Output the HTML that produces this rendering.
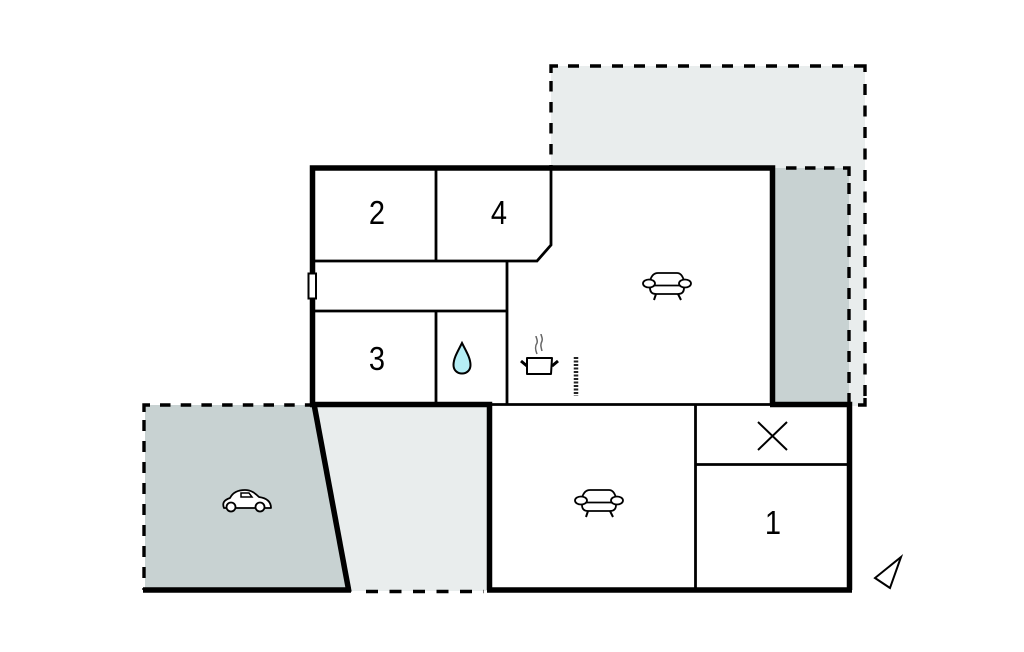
<!DOCTYPE html>
<html>
<head>
<meta charset="utf-8">
<style>
html,body{margin:0;padding:0;background:#fff;width:1024px;height:652px;overflow:hidden}
svg{display:block}
text{font-family:"Liberation Sans",sans-serif;font-size:33px;fill:#000;text-anchor:middle}
</style>
</head>
<body>
<svg width="1024" height="652" viewBox="0 0 1024 652" xmlns="http://www.w3.org/2000/svg">
<rect width="1024" height="652" fill="#fff"/>
<!-- fills -->
<rect x="551" y="66" width="314" height="102" fill="#e9eded"/>
<rect x="773" y="168" width="92" height="238" fill="#e9eded"/>
<rect x="773" y="168" width="76" height="236" fill="#c8d2d2"/>
<polygon points="145,405 314,405 349,589 145,589" fill="#c8d2d2"/>
<polygon points="314,405 490,405 490,591 349,591" fill="#e9eded"/>
<!-- dashed -->
<g fill="none" stroke="#000" stroke-width="3.400">
<path d="M551 73V66H558"/>
<path d="M568 66H857" stroke-dasharray="11 11"/>
<path d="M857 66H865V72"/>
<path d="M551 81V168" stroke-dasharray="10.500 10.500"/>
<path d="M865 84V400" stroke-dasharray="11 10.500"/>
<path d="M865 398V405H858"/>
<path d="M786 168H843" stroke-dasharray="10.500 8.500"/>
<path d="M843 168H849V176"/>
<path d="M849 183V404" stroke-dasharray="11 10"/>
<path d="M150 405H144V412"/>
<path d="M160 405H310" stroke-dasharray="10.500 10.200"/>
<path d="M144 420V590" stroke-dasharray="11 10"/>
<path d="M366 591.500H484" stroke-dasharray="12 11.500"/>
</g>
<!-- thin walls -->
<g fill="none" stroke="#000" stroke-width="2.800">
<path d="M436 168V261"/>
<path d="M312 261H537L551 245V168"/>
<path d="M507 261V404"/>
<path d="M312 311H507"/>
<path d="M436 311V404"/>
<path d="M490 404.500H772"/>
<path d="M695.500 404V590"/>
<path d="M695 464.500H849"/>
</g>
<!-- thick walls -->
<g fill="none" stroke="#000" stroke-width="5.500">
<path d="M312.500 404V168H772.500V404"/>
<path d="M310 404.500H489.500V590"/>
<path d="M770 404.500H849.500V590"/>
<path d="M487 590H852"/>
<path d="M314 404L349 592"/>
<path d="M143 590H351"/>
</g>
<!-- door -->
<rect x="308.500" y="273.500" width="7.500" height="25" fill="#fff" stroke="#000" stroke-width="2"/>
<!-- numbers -->
<text transform="translate(377 224) scale(.88 1)">2</text>
<text transform="translate(499 224) scale(.88 1)">4</text>
<text transform="translate(377 370) scale(.88 1)">3</text>
<text transform="translate(773 534) scale(.88 1)">1</text>
<!-- X -->
<path d="M758 422L787 450M787 422L758 450" stroke="#000" stroke-width="2" fill="none"/>
<!-- drop -->
<path d="M462 343C458 351 453.500 358 453.500 365C453.500 370 457 373.500 462 373.500C467 373.500 470.500 370 470.500 365C470.500 358 466 351 462 343Z" fill="#b5eef5" stroke="#000" stroke-width="2"/>
<!-- pot -->
<g fill="none" stroke="#000">
<path d="M527 358H552L551 374H527Z" fill="#fff" stroke-width="2" stroke-linejoin="round"/>
<path d="M521 361L527 366M558 361L552 366" stroke-width="3"/>
<path d="M537 354C535 349 535 346 537 343C538 340 536 338 536 336M542 351C541 347 540 345 542 341C543 338 541 336 541 334" stroke="#666" stroke-width="1.500"/>
</g>
<!-- stove -->
<path d="M576 357V396" stroke="#222" stroke-width="4.500" stroke-dasharray="2 1.500" fill="none"/>
<!-- sofa 1 -->
<g fill="#fff" stroke="#000" stroke-width="1.800">
<path d="M650 281Q652 273 658 273H677Q682 273 684 281V288Q684 294 678 294H656Q650 294 650 288Z"/>
<path d="M650 285.500H684"/>
<ellipse cx="649" cy="283.500" rx="6" ry="4"/>
<ellipse cx="685" cy="283.500" rx="6" ry="4"/>
<path d="M656 294L654 300M678 294L681 300" fill="none" stroke-width="2"/>
</g>
<!-- sofa 2 -->
<g fill="#fff" stroke="#000" stroke-width="1.800" transform="translate(-68 217)">
<path d="M650 281Q652 273 658 273H677Q682 273 684 281V288Q684 294 678 294H656Q650 294 650 288Z"/>
<path d="M650 285.500H684"/>
<ellipse cx="649" cy="283.500" rx="6" ry="4"/>
<ellipse cx="685" cy="283.500" rx="6" ry="4"/>
<path d="M656 294L654 300M678 294L681 300" fill="none" stroke-width="2"/>
</g>
<!-- car -->
<g stroke="#000" fill="#fff" stroke-width="1.800">
<path d="M224 508C222 503 224 500 230 498C233 492 238 490 245 490C251 490 255 493 259 497C266 498 271 501 271 508Z" stroke-linejoin="round"/>
<path d="M241 493H249L252 497H241Z" stroke-width="1.500"/>
<circle cx="231" cy="507" r="4.500"/>
<circle cx="260" cy="507" r="4.500"/>
</g>
<!-- north arrow -->
<polygon points="901,557 875,578 890,588" fill="#fff" stroke="#000" stroke-width="2"/>
</svg>
</body>
</html>
